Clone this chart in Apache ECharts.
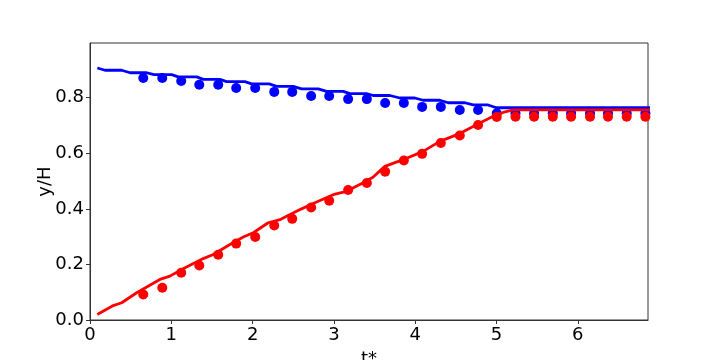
<!DOCTYPE html>
<html>
<head>
<meta charset="utf-8">
<script src="https://cdn.jsdelivr.net/npm/echarts@6/dist/echarts.min.js"></script>
<style>
  html, body { margin: 0; padding: 0; background: #fff; }
  #chart { width: 720px; height: 360px; }
</style>
</head>
<body>
<div id="chart"></div>
<script>
// simulation lines (t*, y/H)
const blueLineT = [0.09, 0.184, 0.39, 0.492, 0.697, 0.787, 1.004, 1.085, 1.312, 1.393, 1.598, 1.68, 1.905, 1.988, 2.204, 2.295, 2.499, 2.602, 2.806, 2.91, 3.114, 3.196, 3.401, 3.483, 3.688, 3.811, 3.995, 4.097, 4.302, 4.405, 4.61, 4.712, 4.896, 4.999, 7.0];
const blueLineY = [0.907, 0.899, 0.899, 0.89, 0.89, 0.883, 0.883, 0.875, 0.875, 0.866, 0.866, 0.858, 0.858, 0.85, 0.85, 0.841, 0.841, 0.832, 0.832, 0.823, 0.823, 0.815, 0.815, 0.808, 0.808, 0.799, 0.799, 0.791, 0.791, 0.782, 0.782, 0.774, 0.774, 0.764, 0.764];

const redLineT = [0.09, 0.286, 0.39, 0.574, 0.86, 0.983, 1.127, 1.393, 1.516, 1.721, 1.885, 2.008, 2.192, 2.336, 2.418, 2.602, 2.745, 2.991, 3.155, 3.36, 3.48, 3.626, 3.851, 4.097, 4.302, 4.548, 4.753, 4.958, 5.081, 5.204, 7.0];
const redLineY = [0.02, 0.052, 0.062, 0.098, 0.146, 0.158, 0.182, 0.221, 0.236, 0.272, 0.299, 0.314, 0.35, 0.361, 0.373, 0.4, 0.419, 0.451, 0.463, 0.494, 0.514, 0.553, 0.577, 0.607, 0.643, 0.671, 0.703, 0.733, 0.747, 0.756, 0.756];

// measured points
const dotT = [0.655, 0.889, 1.122, 1.344, 1.577, 1.798, 2.032, 2.266, 2.487, 2.72, 2.942, 3.175, 3.405, 3.63, 3.86, 4.085, 4.315, 4.548, 4.773, 5.003, 5.233, 5.462, 5.692, 5.917, 6.15, 6.371, 6.601, 6.831];
const blueDotY = [0.871, 0.871, 0.86, 0.847, 0.847, 0.835, 0.835, 0.821, 0.821, 0.806, 0.806, 0.795, 0.795, 0.781, 0.781, 0.767, 0.767, 0.756, 0.756, 0.744, 0.744, 0.744, 0.744, 0.744, 0.744, 0.744, 0.744, 0.744];
const redDotY = [0.092, 0.116, 0.17, 0.196, 0.235, 0.275, 0.299, 0.34, 0.364, 0.405, 0.429, 0.468, 0.493, 0.534, 0.574, 0.598, 0.637, 0.664, 0.702, 0.731, 0.732, 0.732, 0.732, 0.732, 0.732, 0.732, 0.732, 0.732];

const xTicks = [0, 1, 2, 3, 4, 5, 6];
const yTicks = [0, 0.2, 0.4, 0.6, 0.8];

const FONT = "DejaVu Sans";

function pairs(xs, ys) {
  return xs.map((x, i) => [x, ys[i]]);
}

const chart = echarts.init(document.getElementById("chart"));

const axisCommon = {
  axisLine: { show: true, onZero: false, lineStyle: { color: "#333", width: 1 } },
  axisTick: { show: true, inside: false, length: 4, lineStyle: { color: "#333", width: 1 } },
  splitLine: { show: false },
  nameMoveOverlap: false,
  nameTextStyle: { color: "#000", fontFamily: FONT, fontSize: 18 },
};

chart.setOption({
  animation: false,
  backgroundColor: "#fff",
  grid: {
    left: 90,
    right: 72,
    top: 43,
    bottom: 40,
    outerBoundsMode: "none",
    containLabel: false,
    show: true,
    borderColor: "#333",
    borderWidth: 1,
    backgroundColor: "transparent",
  },
  xAxis: {
    ...axisCommon,
    type: "value",
    min: 0,
    max: 6.863,
    name: "t*",
    nameLocation: "middle",
    nameGap: 30,
    axisTick: { ...axisCommon.axisTick, customValues: xTicks },
    axisLabel: {
      customValues: xTicks,
      color: "#000",
      fontFamily: FONT,
      fontSize: 18,
      margin: 6,
      formatter: (v) => String(v),
    },
  },
  yAxis: {
    ...axisCommon,
    type: "value",
    min: 0,
    max: 0.997,
    name: "y/H",
    nameLocation: "middle",
    nameGap: 36,
    axisTick: { ...axisCommon.axisTick, customValues: yTicks },
    axisLabel: {
      customValues: yTicks,
      color: "#000",
      fontFamily: FONT,
      fontSize: 18,
      margin: 6,
      formatter: (v) => v.toFixed(1),
    },
  },
  series: [
    {
      type: "line",
      data: pairs(blueLineT, blueLineY),
      symbol: "none",
      clip: true,
      lineStyle: { color: "#0000ff", width: 2.8 },
      z: 2,
    },
    {
      type: "scatter",
      data: pairs(dotT, blueDotY),
      symbolSize: 10,
      clip: true,
      itemStyle: { color: "#0000ff", opacity: 1 },
      z: 3,
    },
    {
      type: "line",
      data: pairs(redLineT, redLineY),
      symbol: "none",
      clip: true,
      lineStyle: { color: "#ff0000", width: 2.8 },
      z: 4,
    },
    {
      type: "scatter",
      data: pairs(dotT, redDotY),
      symbolSize: 10,
      clip: true,
      itemStyle: { color: "#ff0000", opacity: 1 },
      z: 5,
    },
  ],
});
</script>
</body>
</html>
